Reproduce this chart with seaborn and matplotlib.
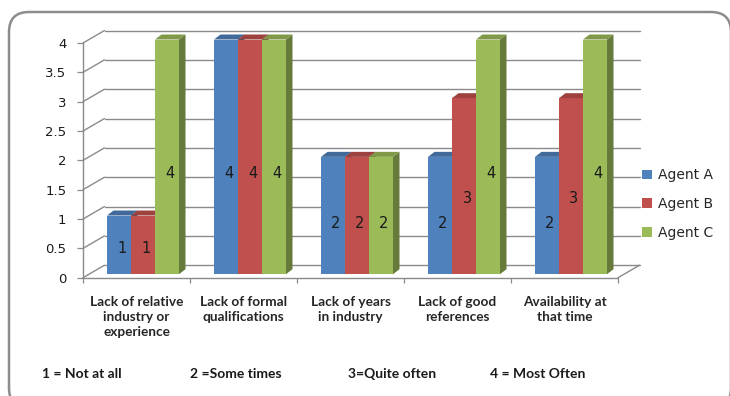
import numpy as np
import pandas as pd
import matplotlib
matplotlib.use("Agg")
import matplotlib.pyplot as plt
import seaborn as sns
from matplotlib.transforms import offset_copy, IdentityTransform
from matplotlib.patches import Polygon, FancyBboxPatch, Patch
from matplotlib.lines import Line2D
from matplotlib.colors import to_rgb

# ---- data -------------------------------------------------------------
categories = [
    "Lack of relative\nindustry or\nexperience",
    "Lack of formal\nqualifications",
    "Lack of years\nin industry",
    "Lack of good\nreferences",
    "Availability at\nthat time",
]
agents = ["Agent A", "Agent B", "Agent C"]
agent_a = [1, 4, 2, 2, 2]
agent_b = [1, 4, 2, 3, 3]
agent_c = [4, 4, 2, 4, 4]
y_ticks = [0, 0.5, 1, 1.5, 2, 2.5, 3, 3.5, 4]
scale_notes = ["1 = Not at all", "2 =Some times", "3=Quite often", "4 = Most Often"]
colors = ["#4F81BD", "#C0504D", "#9BBB59"]

df = pd.DataFrame({
    "category": categories * 3,
    "agent": [a for a in agents for _ in categories],
    "value": agent_a + agent_b + agent_c,
})

# ---- figure / axes ----------------------------------------------------
DPI = 100
W, H = 730, 396
sns.set_theme(style="white")
plt.rcParams["font.family"] = ["DejaVu Sans"]

fig = plt.figure(figsize=(W / DPI, H / DPI), dpi=DPI)
fig.patch.set_facecolor("white")
ax = fig.add_axes([83 / W, 1 - 277.7 / H, (618 - 83) / W, (277.7 - 43) / H])
ax.set_facecolor("none")

sns.barplot(data=df, x="category", y="value", hue="agent", order=categories,
            hue_order=agents, palette=colors, width=0.673, gap=0,
            saturation=1, errorbar=None, legend=False, linewidth=0, ax=ax)
bars = sorted(list(ax.patches), key=lambda p: p.get_x())

ax.set_xlim(-0.5, 4.5)
ax.set_ylim(0, 4)
ax.set_xlabel("")
ax.set_ylabel("")
for s in ax.spines.values():
    s.set_visible(False)

GRID = "#8a8a8a"
FLOOR = (21.5, 12.5)      # depth of the floor / back wall, pixels
BAR_SHIFT = (6.5, 3.5)    # bar front plane behind the front axis
BAR_DEPTH = (6.5, 5.0)    # depth of each column

# y axis ticks and labels
ax.set_yticks(y_ticks)
ax.set_yticklabels([f"{t:g}" for t in y_ticks], fontsize=9.5, color="#1a1a1a")
ax.tick_params(axis="y", which="major", left=True, length=4, width=0.9,
               color=GRID, pad=8)
# category boundaries as tick marks on the floor edge
ax.set_xticks(np.arange(-0.5, len(categories) + 0.5, 1.0))
ax.set_xticklabels([])
ax.tick_params(axis="x", which="major", bottom=True, length=3.5, width=0.9,
               color=GRID)

fig.canvas.draw()
tD = ax.transData


def disp(x, y):
    return tD.transform((x, y))


def seg(p, q, **kw):
    ax.add_line(Line2D([p[0], q[0]], [p[1], q[1]], transform=IdentityTransform(),
                       color=GRID, lw=1.0, clip_on=False, **kw))


fx, fy = FLOOR
x_lo, x_hi = -0.5, len(categories) - 0.5
for t in y_ticks:
    a = disp(x_lo, t)
    b = disp(x_hi, t)
    # diagonal from the front axis to the back wall, then the back gridline
    seg(a, (a[0] + fx, a[1] + fy), zorder=1)
    seg((a[0] + fx, a[1] + fy), (b[0] + fx, b[1] + fy), zorder=1)
# front vertical axis and front floor edge
seg(disp(x_lo, 0), disp(x_lo, 4), zorder=1)
f0, f1 = disp(x_lo, 0), disp(x_hi, 0)
seg(f0, f1, zorder=1)
seg(f1, (f1[0] + fx, f1[1] + fy), zorder=1)


def shade(c, k):
    r, g, b = to_rgb(c)
    return (r * k, g * k, b * k)


bar_tr = offset_copy(tD, fig=fig, x=BAR_SHIFT[0], y=BAR_SHIFT[1], units="dots")
lab_tr = offset_copy(tD, fig=fig, x=BAR_SHIFT[0] + 3, y=BAR_SHIFT[1], units="dots")
dx, dy = BAR_DEPTH
for rank, bar in enumerate(bars):
    z = 3 + 0.01 * rank
    bx, bw, bh = bar.get_x(), bar.get_width(), bar.get_height()
    base = bar.get_facecolor()
    bar.set_transform(bar_tr)
    bar.set_clip_on(False)
    bar.set_zorder(z)
    x0, y0 = bar_tr.transform((bx, 0))
    x1, y1 = bar_tr.transform((bx + bw, bh))
    side = [(x1, y0), (x1 + dx, y0 + dy), (x1 + dx, y1 + dy), (x1, y1)]
    top = [(x0, y1), (x1, y1), (x1 + dx, y1 + dy), (x0 + dx, y1 + dy)]
    ax.add_patch(Polygon(side, closed=True, transform=IdentityTransform(),
                         facecolor=shade(base, 0.66), edgecolor="none",
                         clip_on=False, zorder=z + 0.001))
    ax.add_patch(Polygon(top, closed=True, transform=IdentityTransform(),
                         facecolor=shade(base, 0.82), edgecolor="none",
                         clip_on=False, zorder=z + 0.002))
    ax.text(bx + bw / 2, 0.43 * bh, f"{bh:g}", transform=lab_tr,
            ha="center", va="center", fontsize=10.5, color="#1a1a1a",
            zorder=10)

# category labels under the floor
cat_tr = offset_copy(tD, fig=fig, x=0, y=-18, units="dots")
for i, c in enumerate(categories):
    ax.text(i, 0, c, transform=cat_tr, ha="center", va="top", fontsize=9.8,
            fontweight="bold", family=["Lato", "DejaVu Sans"], color="#262626",
            linespacing=1.3)

# legend
handles = [Patch(facecolor=c, edgecolor="none") for c in colors]
fig.legend(handles, agents, loc="center left",
           bbox_to_anchor=(642 / W, 1 - 204 / H), frameon=False,
           handlelength=0.7, handleheight=0.7, handletextpad=0.45,
           labelspacing=1.05, borderpad=0, borderaxespad=0,
           prop={"size": 10})

# rating scale footnote
for x, note in zip([42, 190, 348, 490], scale_notes):
    fig.text(x / W, 1 - 374 / H, note, ha="left", va="center", fontsize=10,
             fontweight="bold", family=["Lato", "DejaVu Sans"], color="#1a1a1a")

# rounded chart frame
frame = FancyBboxPatch((9, -12), 722, 396, boxstyle="round,pad=0,rounding_size=20",
                       transform=IdentityTransform(), facecolor="none",
                       edgecolor="#8c8c8c", lw=1.8)
fig.add_artist(frame)

fig.savefig("out.png", dpi=DPI)
